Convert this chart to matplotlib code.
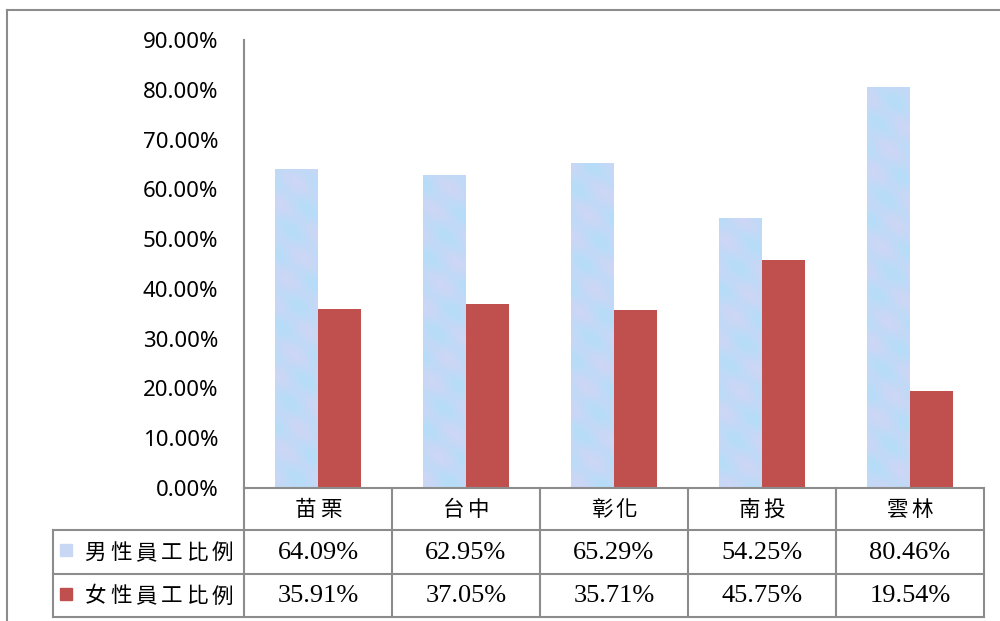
import numpy as np
import matplotlib
matplotlib.use('Agg')
import matplotlib.pyplot as plt
from matplotlib.lines import Line2D
from matplotlib.patches import Rectangle

categories = ["苗栗", "台中", "彰化", "南投", "雲林"]
male = [64.09, 62.95, 65.29, 54.25, 80.46]
female = [35.91, 37.05, 35.71, 45.75, 19.54]
series_names = ["男性員工比例", "女性員工比例"]
yticks = [0, 10, 20, 30, 40, 50, 60, 70, 80, 90]

W, H = 1000, 621
GRID = '#8C8C8C'
RED = '#C0504D'
CJK = ['Noto Sans CJK TC', 'DejaVu Sans']


def fx(px):
    return px / W


def fy(py):
    return 1 - py / H


fig = plt.figure(figsize=(10, 6.21), dpi=100)
fig.patch.set_facecolor('white')

# chart area frame (cut off at right / bottom)
fig.add_artist(Line2D([fx(7), fx(7)], [fy(10), fy(621)], color=GRID, lw=1.5))
fig.add_artist(Line2D([fx(7), fx(1000)], [fy(10), fy(10)], color=GRID, lw=1.5))

x0, x1, y0, y1 = 244, 984, 488, 40
ax = fig.add_axes([fx(x0), fy(y0), fx(x1 - x0), fy(y1) - fy(y0)])
ax.set_xlim(-0.5, len(categories) - 0.5)
ax.set_ylim(0, 90)
for s in ['top', 'right', 'bottom']:
    ax.spines[s].set_visible(False)
ax.spines['left'].set_color(GRID)
ax.spines['left'].set_linewidth(1.5)
ax.set_xticks([])
ax.set_yticks(yticks)
ax.set_yticklabels([f"{v:.2f}%" for v in yticks], fontsize=16, family=['Noto Sans', 'DejaVu Sans'])
ax.tick_params(axis='y', length=0, pad=18.5)

x = np.arange(len(categories))
bw = 0.29
mbars = ax.bar(x - bw / 2, male, bw, color='#C8D8F4', zorder=2)
ax.bar(x + bw / 2, female, bw, color=RED, zorder=2)

# soft marbled fill for the male bars
gx, gy = np.meshgrid(np.linspace(0, 1, 40), np.linspace(0, 1, 200))
for b in mbars:
    bx, by = b.get_x(), b.get_y()
    w, h = b.get_width(), b.get_height()
    t = 0.5 + 0.25 * np.sin(gy * h * 0.9 + gx * 6) + 0.25 * np.sin(gy * h * 0.37 - gx * 4 + bx)
    c1 = np.array([205, 214, 245]) / 255
    c2 = np.array([182, 221, 248]) / 255
    img = c1[None, None, :] * t[..., None] + c2[None, None, :] * (1 - t[..., None])
    im = ax.imshow(img, extent=[bx, bx + w, by, by + h], aspect='auto', origin='lower', zorder=3)
    im.set_clip_path(b)

# data table
rows = [488, 530, 574, 617]
cols = [x0 + i * (x1 - x0) / len(categories) for i in range(len(categories) + 1)]
left_col = 53
for i, r in enumerate(rows):
    xa = x0 if i == 0 else left_col
    fig.add_artist(Line2D([fx(xa), fx(x1)], [fy(r), fy(r)], color=GRID, lw=1.5))
for c in cols:
    fig.add_artist(Line2D([fx(c), fx(c)], [fy(rows[0]), fy(rows[-1])], color=GRID, lw=1.5))
fig.add_artist(Line2D([fx(left_col), fx(left_col)], [fy(rows[1]), fy(rows[-1])], color=GRID, lw=1.5))


def spaced(text, cx, cy, step, size):
    n = len(text)
    start = cx - step * (n - 1) / 2
    for k, ch in enumerate(text):
        fig.text(fx(start + k * step), fy(cy), ch, ha='center', va='center',
                 fontsize=size, family=CJK)


for i, cat in enumerate(categories):
    cx = (cols[i] + cols[i + 1]) / 2
    spaced(cat, cx, (rows[0] + rows[1]) / 2 + 1, 25, 15.5)

series_vals = [male, female]
series_cols = ['#C8D8F4', RED]
for j, name in enumerate(series_names):
    cy = (rows[j + 1] + rows[j + 2]) / 2
    fig.add_artist(Rectangle((fx(60), fy(cy + 4)), fx(12), fy(0) - fy(12),
                             color=series_cols[j], transform=fig.transFigure))
    spaced(name, 159, cy + 1, 25.5, 15.5)
    for i, v in enumerate(series_vals[j]):
        cx = (cols[i] + cols[i + 1]) / 2
        fig.text(fx(cx), fy(cy + 1), f"{v:.2f}%", ha='center', va='center',
                 fontsize=19, family=['Liberation Serif', 'DejaVu Serif'])

fig.savefig('out.png', dpi=100)
